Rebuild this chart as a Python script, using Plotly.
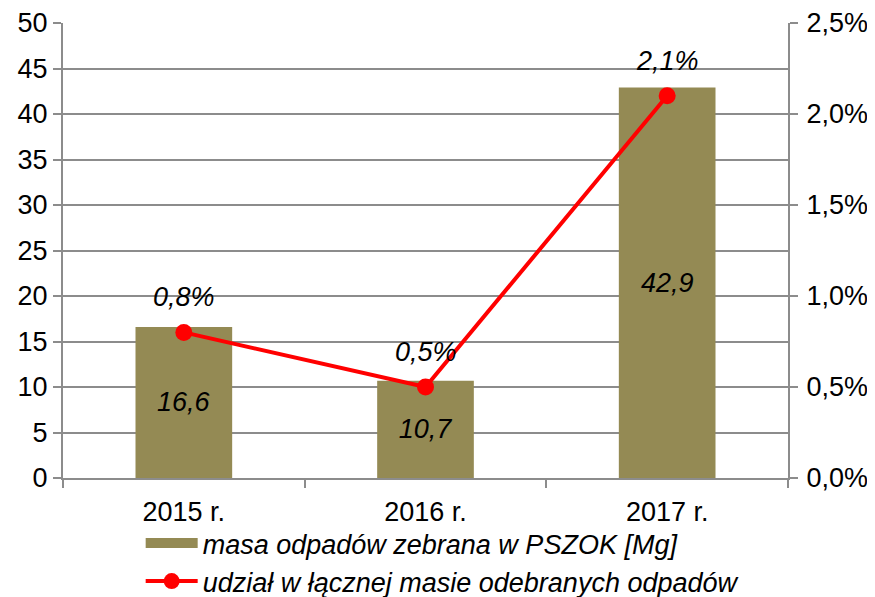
import plotly.graph_objects as go

categories = ["2015 r.", "2016 r.", "2017 r."]
masa = [16.6, 10.7, 42.9]
udzial = [0.008, 0.005, 0.021]
masa_labels = ["16,6", "10,7", "42,9"]
udzial_labels = ["0,8%", "0,5%", "2,1%"]
bar_name = "masa odpadów zebrana w PSZOK [Mg]"
line_name = "udział w łącznej masie odebranych odpadów"

bar_color = "#948A54"
grid_color = "#8C8C8C"
font_family = "Liberation Sans, Arial, sans-serif"
fs = 27

fig = go.Figure()
fig.add_trace(go.Bar(
    x=categories, y=masa, name=bar_name, showlegend=False,
    marker=dict(color=bar_color, line=dict(width=0)), width=0.4,
    text=masa_labels, textposition="inside", insidetextanchor="middle",
    textfont=dict(family=font_family, size=fs, color="black", style="italic"),
    textangle=0, cliponaxis=False,
))
# legend swatch for the bar series (wide rectangle like the original)
fig.add_trace(go.Scatter(
    x=[None], y=[None], mode="lines", name=bar_name,
    line=dict(color=bar_color, width=14), hoverinfo="skip",
))
fig.add_trace(go.Scatter(
    x=categories, y=udzial, yaxis="y2", mode="lines+markers",
    name=line_name,
    line=dict(color="#FF0000", width=4),
    marker=dict(color="#FF0000", size=17),
    cliponaxis=False,
))
for c, v, t in zip(categories, udzial, udzial_labels):
    fig.add_annotation(
        x=c, y=v, xref="x", yref="y2", text=t, showarrow=False,
        yanchor="bottom", yshift=18,
        font=dict(family=font_family, size=fs, color="black", style="italic"),
    )

fig.update_layout(
    width=867, height=589,
    margin=dict(l=55, r=87, t=15, b=119, autoexpand=False),
    plot_bgcolor="white", paper_bgcolor="white",
    separators=", ",
    font=dict(family=font_family, size=fs, color="black"),
    showlegend=True,
    legend=dict(
        orientation="v", x=0.523, xanchor="center",
        y=-0.09, yanchor="top",
        font=dict(family=font_family, size=fs, color="black", style="italic"),
        itemwidth=52, tracegroupgap=0, bgcolor="rgba(0,0,0,0)",
    ),
    xaxis=dict(
        showline=True, linecolor=grid_color, linewidth=2,
        ticks="outside", tickson="boundaries", ticklen=8, tickcolor=grid_color, tickwidth=2,
        tickfont=dict(size=fs), showgrid=False, tickangle=0, ticklabelstandoff=9,
    ),
    yaxis=dict(
        range=[0, 50], dtick=5, showline=True, linecolor=grid_color, linewidth=2,
        ticks="outside", ticklen=8, tickcolor=grid_color, tickwidth=2,
        showgrid=True, gridcolor=grid_color, gridwidth=2, zeroline=False,
        tickfont=dict(size=fs), ticklabelstandoff=0,
    ),
    yaxis2=dict(
        range=[0, 0.025], dtick=0.005, tickformat=".1%", overlaying="y", side="right",
        showline=True, linecolor=grid_color, linewidth=2,
        ticks="outside", ticklen=8, tickcolor=grid_color, tickwidth=2,
        showgrid=False, zeroline=False, tickfont=dict(size=fs), ticklabelstandoff=3,
    ),
)

fig.write_html("out.html")
